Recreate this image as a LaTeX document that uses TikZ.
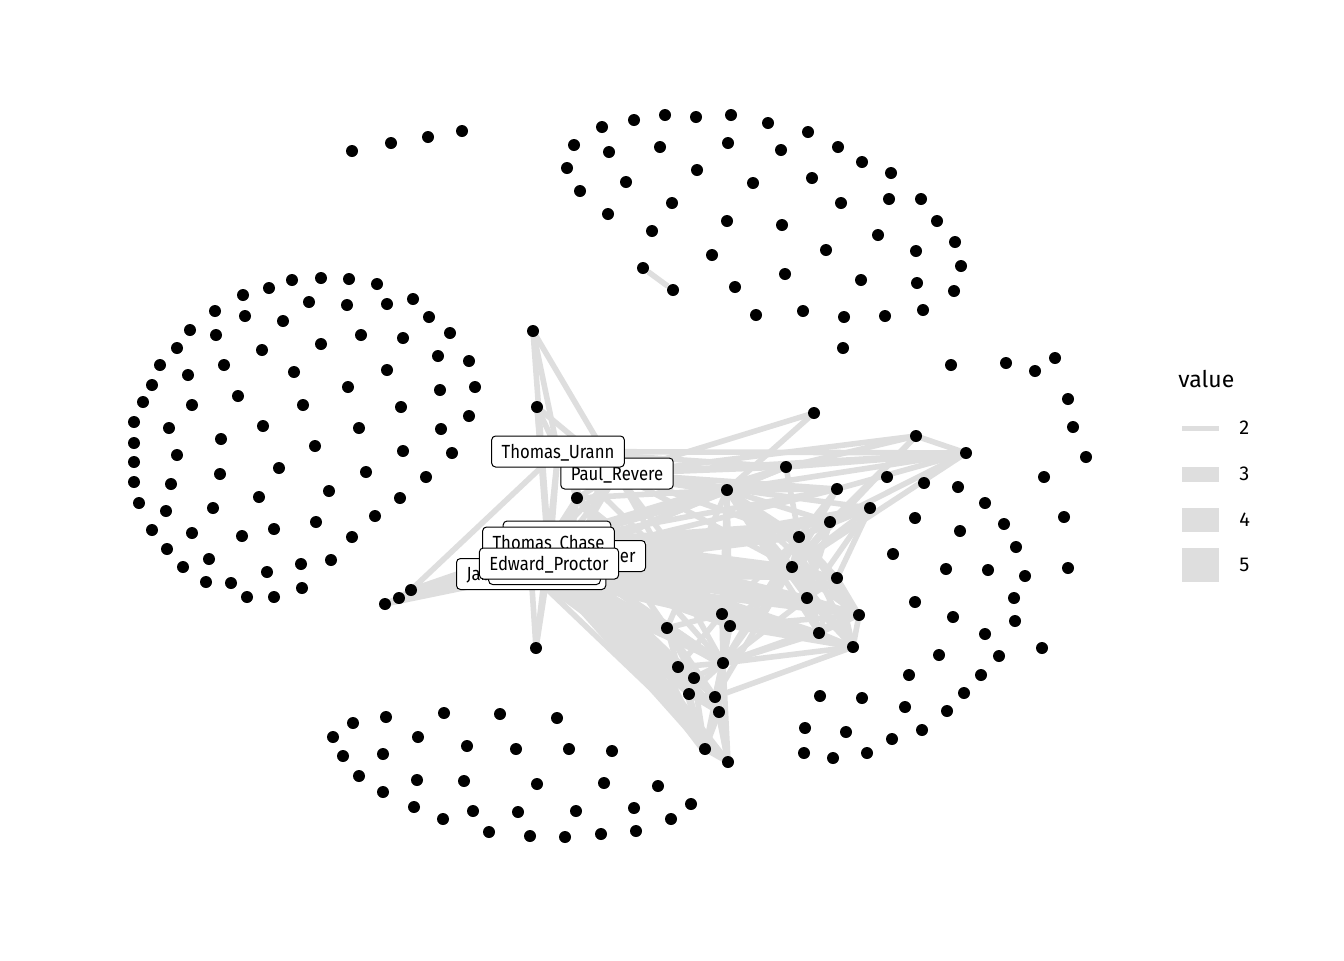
\documentclass[tikz,border=0pt]{standalone}
\usepackage{fontspec}
\setmainfont{Fira Sans}
\newfontfamily\lblfont[FakeStretch=0.88]{Fira Sans}
\definecolor{edgegray}{RGB}{222,222,222}
\pgfdeclarelayer{bg}
\pgfsetlayers{bg,main}
\tikzset{
  dot/.style={circle,fill=black,inner sep=0pt,minimum size=6pt},
  tie/.style={draw=edgegray,line width=2.8pt},
  bigtie/.style={draw=edgegray,line width=5pt},
  tag/.style={draw=black,line width=0.5pt,fill=white,rounded corners=2pt,
    font=\lblfont\fontsize{9.5}{10}\selectfont,inner xsep=5pt,inner ysep=3pt,
    text height=8pt,text depth=1.5pt},
  swatch/.style={fill=edgegray,minimum width=18.5pt,inner sep=0pt},
  keylabel/.style={anchor=west,inner sep=0pt,font=\fontsize{10}{12}\selectfont}
}
\begin{document}
\begin{tikzpicture}[x=0.5pt,y=-0.5pt]
\useasboundingbox (0,0) rectangle (1344,960);
% unlinked groups
\foreach \px/\py [count=\i] in {292/280,321/278,349/279,377/284,269/288,243/295,309/302,347/305,387/304,413/299,
  215/311,245/316,283/321,429/317,190/330,216/335,450/333,361/335,403/338,321/344,262/350,177/348,438/356,469/361,
  160/365,224/365,294/372,387/370,188/375,152/385,348/387,440/390,475/387,238/396,143/402,192/405,303/405,401/407,
  469/416,263/426,359/428,134/422,169/428,441/429,221/439,315/446,134/443,403/451,452/453,177/455,279/468,134/462,
  366/472,220/474,426/477,134/482,171/484,329/491,259/497,400/498,139/503,213/508,166/511,375/516,316/522,274/529,
  352/537,152/530,192/533,242/536,167/549,209/559,301/564,331/560,183/567,267/572,206/582,231/583,247/597,274/597,302/588}
  \node[dot] (a\i) at (\px,\py) {};
\foreach \px/\py [count=\i] in {352/151,391/143,428/137,462/131}
  \node[dot] (b\i) at (\px,\py) {};
\foreach \px/\py [count=\i] in {665/115,696/117,731/115,634/120,602/127,768/123,808/132,574/145,609/152,660/147,
  728/143,781/150,838/147,862/162,567/168,697/170,812/178,891/173,626/182,753/183,580/191,672/203,841/203,889/199,
  921/199,608/214,727/221,782/225,937/221,652/231,878/235,826/250,916/251,955/242,712/255,961/266,785/274,861/280,
  917/283,954/291,735/287,756/315,803/311,844/317,885/316,923/310,843/348}
  \node[dot] (t\i) at (\px,\py) {};
\node[dot] (tx) at (643,268) {};
\node[dot] (ty) at (673,290) {};
\foreach \px/\py [count=\i] in {951/365,1006/363,1035/371,1055/358,1068/399,1073/427,1086/457,1044/477,1064/517,
  1068/568,1042/648}
  \node[dot] (s\i) at (\px,\py) {};
\foreach \px/\py [count=\i] in {887/477,924/483,958/487,985/503,915/518,960/531,1004/524,1016/547,893/554,946/569,
  988/570,1025/576,1014/598,915/602,953/617,1015/621,985/634,939/655,999/656,909/675,981/675,964/693,820/696,
  862/698,905/707,947/711,805/728,846/732,922/730,892/739,804/753,833/758,867/753}
  \node[dot] (k\i) at (\px,\py) {};
\foreach \px/\py [count=\i] in {444/713,500/714,557/718,353/723,386/717,333/737,418/737,343/756,383/754,467/746,
  516/749,569/749,612/751,359/776,417/780,464/781,537/784,604/783,658/786,383/792,414/807,443/819,473/811,518/812,
  576/811,634/808,691/804,671/819,489/832,530/836,565/837,601/834,636/831}
  \node[dot] (u\i) at (\px,\py) {};
% linked group
\foreach \px/\py [count=\i] in {533/331,537/407,577/498,727/490,814/413,786/467,837/489,870/508,830/522,799/537,
  792/567,837/578,807/598,859/615,819/633,853/647,722/614,730/626,667/628,723/663,678/667,694/678,689/694,
  715/697,719/712,705/749,728/762,536/648}
  \node[dot] (m\i) at (\px,\py) {};
\node[dot] (p1) at (385,604) {};
\node[dot] (p2) at (399,598) {};
\node[dot] (p3) at (411,590) {};
\node[dot] (q1) at (916,436) {};
\node[dot] (q2) at (966,453) {};
% labels
\node[tag] (revere) at (617,473.5) {Paul\_Revere};
\node[tag] (urann) at (558,451.5) {Thomas\_Urann};
\node[tag,anchor=west] (jay) at (456,574) {Jabez\_Weatherby};
\node[tag,anchor=east] (barber) at (646,556) {Nathaniel\_Barber};
\node[tag] (chaseb) at (557,536.5) {Henry\_Bass};
\node[tag] (chase) at (548.5,542.5) {Thomas\_Chase};
\node[tag] (hid) at (544.5,569) {John\_Lowell};
\node[tag] (proctor) at (549,563.5) {Edward\_Proctor};
\begin{pgfonlayer}{bg}
\draw[tie] (tx) -- (ty);
\foreach \h/\ends in {
  urann/{revere,chase,proctor,m1,m2,m3,m4,m6,q2,p3,m26,m17,m10},
  revere/{chase,barber,proctor,m1,m2,m3,m4,m5,m6,m7,q1,q2,m8,m10,m11,m17,m20},
  chase/{chaseb,proctor,m1,m2,m3,m4,m6,m7,m9,m10,m11,m12,m13,m14,m15,m16,m17,m18,m19,m20,m21,m22,m23,m24,m25,m26,m27,m28,p1,p2,p3},
  proctor/{m2,m3,m4,m6,m8,m9,m10,m11,m12,m13,m14,m15,m16,m17,m18,m19,m20,m21,m22,m23,m24,m25,m26,m27,m28,p1,p2,p3},
  barber/{m3,m4,m6,m7,m10,m11,m12,m13,m14,m16,m17,m18,m19,m20,m24,m25,m26,m27},
  hid/{m4,m10,m12,m13,m15,m16,m17,m19,m20,m21,m23,m26,m27},
  jay/{m4,m12,m14,m16,m17,m19,m20,m22,m25,m27,m28,p1,p3},
  chaseb/{m3,m4,m6,m10,m11,m13,m17,m18,m21},
  m3/{m4,m17,m19,m20},
  m4/{m5,m6,m7,q2,m9,m10,m11,m12,m13,m14,m15,m16,m17,m18,m19,m20},
  m6/{q1,q2,m10}, q1/{q2,m9,m11}, q2/{m7,m10,m11}, m7/{m10,m11},
  m8/{m10,m11,m12,m13}, m9/{m11,m13},
  m10/{m11,m12,m13,m14,m15,m16,m17,m20},
  m11/{m12,m13,m14,m15,m16,m18,m20,m24},
  m12/{m13,m14,m15,m16}, m13/{m14,m15,m16,m20}, m14/{m15,m16,m18,m20},
  m15/{m16,m20}, m16/{m18,m20,m24}, m17/{m18,m19,m20,m21}, m18/{m20,m24},
  m19/{m20,m21,m22,m24}, m20/{m21,m22,m23,m24,m25,m26,m27},
  m21/{m22,m23,m26}, m22/{m23,m24,m26}, m23/{m24,m25,m26},
  m24/{m25,m27}, m25/{m26,m27}, m26/{m27}, p1/{p2}, p2/{p3}}
  \foreach \e in \ends
    \draw[tie] (\h.center) -- (\e.center);
\foreach \h/\e in {urann/revere,chase/proctor,proctor/m20,chase/m4,revere/m4,chase/m26,barber/m17,proctor/m11}
  \draw[bigtie] (\h.center) -- (\e.center);
\end{pgfonlayer}
% legend
\node[anchor=base west,inner sep=0pt,font=\fontsize{11.5}{13}\selectfont] (vtitle) at (1178,387) {value};
\node[swatch,minimum height=2.5pt] (w2) at (1200.5,428) {};
\node[swatch,minimum height=7.5pt] (w3) at (1200.5,474) {};
\node[swatch,minimum height=12pt] (w4) at (1200.5,520) {};
\node[swatch,minimum height=17pt] (w5) at (1200.5,565) {};
\node[keylabel] (v2) at (1239,428) {2};
\node[keylabel] (v3) at (1239,474) {3};
\node[keylabel] (v4) at (1239,520) {4};
\node[keylabel] (v5) at (1239,565) {5};
\end{tikzpicture}
\end{document}
